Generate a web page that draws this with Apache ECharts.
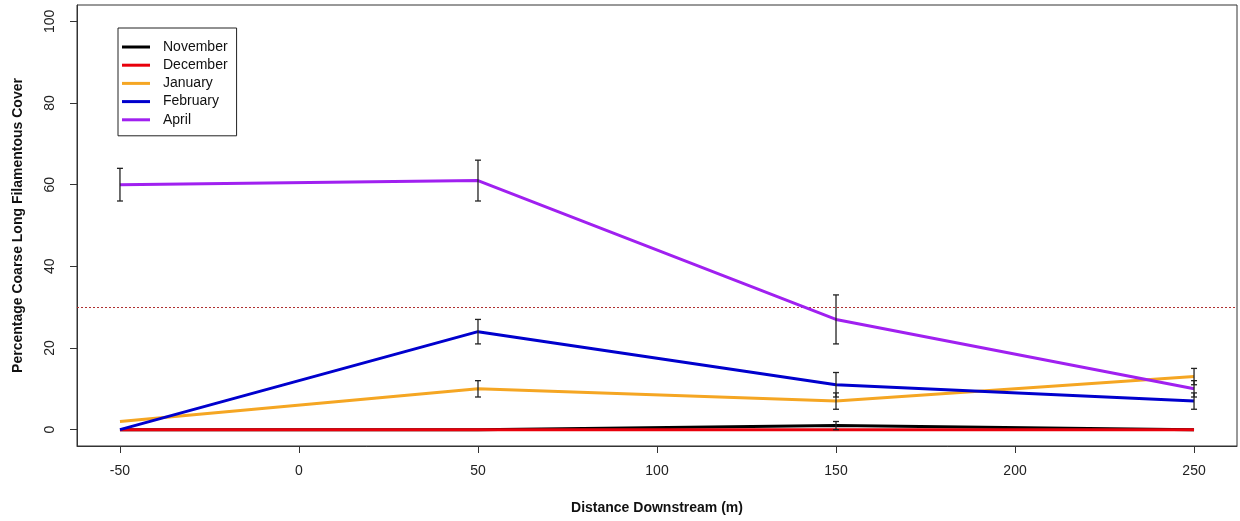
<!DOCTYPE html>
<html>
<head>
    <meta charset="utf-8" />
    <title>Coarse Long Filamentous Cover</title>
    <style>
        html, body { margin: 0; padding: 0; background: #fff; }
    </style>
</head>
<body>
    <div id="divChart" style="width:1240px;height:521px;"></div>

    <script src="https://cdn.jsdelivr.net/npm/echarts@6/dist/echarts.min.js"></script>
    <script>
        // distance downstream (m)
        var distances = [-50, 50, 150, 250];
        var xTicks = [-50, 0, 50, 100, 150, 200, 250];
        var yTicks = [0, 20, 40, 60, 80, 100];

        var months = ['November', 'December', 'January', 'February', 'April'];
        var colors = ['#000000', '#e8000b', '#f5a623', '#0000cd', '#a020f0'];

        // mean cover per month
        var november = [0, 0, 1, 0];
        var december = [0, 0, 0, 0];
        var january = [2, 10, 7, 13];
        var february = [0, 24, 11, 7];
        var april = [60, 61, 27, 10];

        // +/- error per month
        var novemberErr = [0, 0, 1, 0];
        var decemberErr = [0, 0, 0, 0];
        var januaryErr = [0, 2, 2, 2];
        var februaryErr = [0, 3, 3, 2];
        var aprilErr = [4, 5, 6, 2];

        var threshold = 30;

        var values = [november, december, january, february, april];
        var errors = [novemberErr, decemberErr, januaryErr, februaryErr, aprilErr];

        var myChart = echarts.init(document.getElementById('divChart'));

        var series = [];
        for (var i = 0; i < months.length; i++) {
            var pts = [];
            for (var j = 0; j < distances.length; j++) {
                pts.push([distances[j], values[i][j]]);
            }
            var s = {
                name: months[i],
                type: 'line',
                data: pts,
                showSymbol: false,
                lineStyle: { width: 3, color: colors[i] },
                itemStyle: { color: colors[i] },
                z: 2 + i
            };
            if (i == 1) {
                // dotted reference line
                s.markLine = {
                    silent: true,
                    symbol: 'none',
                    label: { show: false },
                    itemStyle: { color: '#b03030' },
                    lineStyle: { type: [2, 2], color: '#b03030', width: 1 },
                    data: [{ yAxis: threshold }]
                };
            }
            series.push(s);
        }

        // error bars
        var errData = [];
        for (var i = 0; i < months.length; i++) {
            for (var j = 0; j < distances.length; j++) {
                if (errors[i][j] > 0) {
                    errData.push([distances[j], values[i][j] - errors[i][j], values[i][j] + errors[i][j]]);
                }
            }
        }
        series.push({
            type: 'custom',
            silent: true,
            z: 20,
            data: errData,
            renderItem: function (params, api) {
                var lo = api.coord([api.value(0), api.value(1)]);
                var hi = api.coord([api.value(0), api.value(2)]);
                var w = 3;
                var st = { stroke: '#222', lineWidth: 1.3 };
                return {
                    type: 'group',
                    children: [
                        { type: 'line', shape: { x1: lo[0], y1: lo[1], x2: hi[0], y2: hi[1] }, style: st },
                        { type: 'line', shape: { x1: lo[0] - w, y1: lo[1], x2: lo[0] + w, y2: lo[1] }, style: st },
                        { type: 'line', shape: { x1: hi[0] - w, y1: hi[1], x2: hi[0] + w, y2: hi[1] }, style: st }
                    ]
                };
            }
        });

        var option = {
            animation: false,
            backgroundColor: '#fff',
            textStyle: { fontFamily: 'Liberation Sans, Arial, sans-serif' },
            grid: { left: 77, right: 3, top: 5, bottom: 75, show: true, borderColor: '#333', borderWidth: 1 },
            legend: {
                orient: 'vertical',
                left: 118,
                top: 28,
                data: months,
                icon: 'rect',
                itemWidth: 28,
                itemHeight: 3,
                itemGap: 4.2,
                padding: [12, 9, 9, 4],
                borderColor: '#222',
                borderWidth: 1,
                textStyle: { fontSize: 14, color: '#111', padding: [0, 0, 0, 8] }
            },
            xAxis: {
                type: 'value',
                min: -62,
                max: 262,
                name: 'Distance Downstream (m)',
                nameLocation: 'middle',
                nameGap: 55,
                nameTextStyle: { fontSize: 14, fontWeight: 'bold', color: '#111' },
                splitLine: { show: false },
                axisLine: { show: true, onZero: false, lineStyle: { color: '#333' } },
                axisTick: { show: true, length: 7, customValues: xTicks, lineStyle: { color: '#333' } },
                axisLabel: { customValues: xTicks, margin: 18, fontSize: 14, color: '#222' }
            },
            yAxis: {
                type: 'value',
                min: -4,
                max: 104,
                name: 'Percentage Coarse Long Filamentous Cover',
                nameLocation: 'middle',
                nameGap: 52,
                nameRotate: 90,
                nameTextStyle: { fontSize: 14, fontWeight: 'bold', color: '#111' },
                splitLine: { show: false },
                axisLine: { show: true, onZero: false, lineStyle: { color: '#333' } },
                axisTick: { show: true, length: 7, customValues: yTicks, lineStyle: { color: '#333' } },
                axisLabel: { customValues: yTicks, rotate: 90, margin: 20, fontSize: 14, color: '#222' }
            },
            series: series
        };
        myChart.setOption(option);
    </script>
</body>
</html>
